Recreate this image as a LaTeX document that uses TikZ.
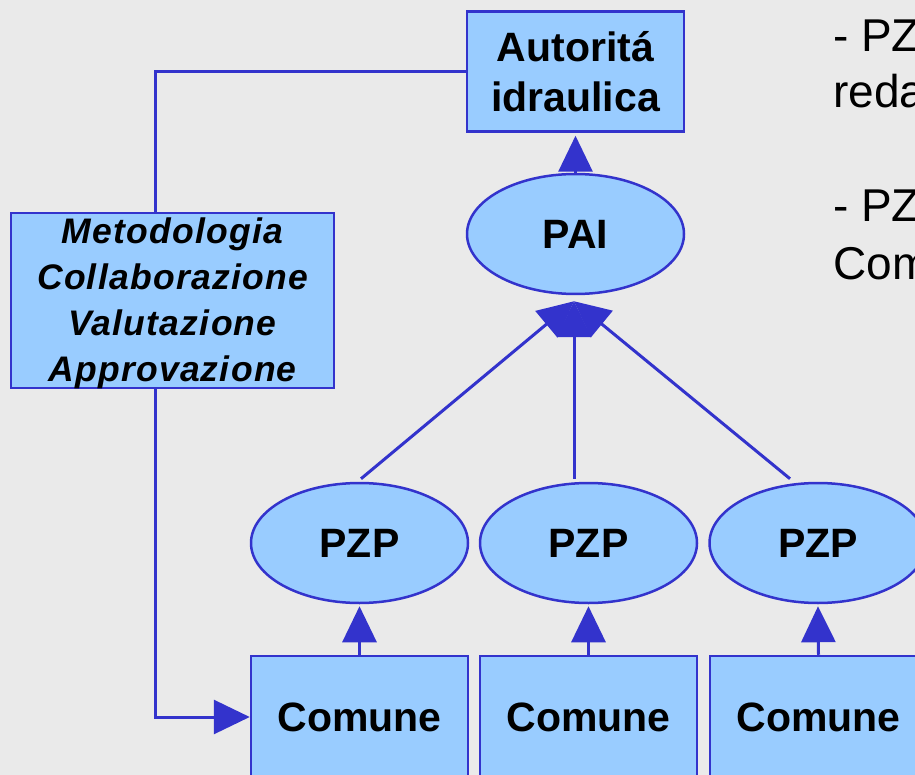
\documentclass[tikz,border=0pt]{standalone}
\usepackage{fontspec}
\setmainfont{Liberation Sans}
\newfontfamily\metafont{Liberation Sans}[LetterSpace=3.5]
\usetikzlibrary{arrows.meta,shapes.geometric}
\definecolor{bg}{HTML}{EAEAEA}
\definecolor{fillb}{HTML}{99CCFF}
\definecolor{lineb}{HTML}{3333CC}
\begin{document}
\begin{tikzpicture}[x=1pt,y=-1pt,
 box/.style={draw=lineb, fill=fillb, line width=2.5pt, rectangle, minimum width=217pt, minimum height=120pt, inner sep=0pt, font=\bfseries\fontsize{41}{50}\selectfont, align=center},
 oval/.style={draw=lineb, fill=fillb, line width=2.5pt, ellipse, minimum width=217pt, minimum height=120pt, inner sep=0pt, font=\bfseries\fontsize{41}{50}\selectfont},
 conn/.style={draw=lineb, line width=3pt},
 arr/.style={conn, -{Triangle[length=36pt,width=34pt]}},
 side/.style={anchor=north west, inner sep=0pt, align=left}]
\fill[bg] (0,0) rectangle (915,775);
\useasboundingbox (0,0) rectangle (915,775);
\clip (0,0) rectangle (915,775);

\node[box, minimum width=323pt, minimum height=175pt] (meta) at (172.5,300.5) {};
\node[box] (auth) at (575.5,71.5) {Autoritá\\idraulica};
\draw[conn] (auth.west) -| ([xshift=-17.5pt]meta.north);
\node[inner sep=0pt, anchor=north, align=center, font=\metafont\bfseries\itshape\fontsize{35.5}{46}\selectfont] (metatext) at ([yshift=-6pt]meta.north) {Metodologia\\Collaborazione\\Valutazione\\Approvazione};

\node[oval] (pai) at (575.5,234) {PAI};
\node[oval] (pzp1) at (359.5,543) {PZP};
\node[oval] (pzp2) at (588.5,543) {PZP};
\node[oval] (pzp3) at (818,543) {PZP};
\node[box, minimum height=122pt] (com1) at (359.5,717) {Comune};
\node[box, minimum height=122pt] (com2) at (588.5,717) {Comune};
\node[box, minimum height=122pt] (com3) at (818.5,717) {Comune};

\node[side, font=\fontsize{46}{56}\selectfont] (r1) at (833,20) {- PZ\\reda};
\node[side, font=\fontsize{46}{58}\selectfont] (r2) at (833,190) {- PZ\\Com};

\draw[arr] ([xshift=-17.5pt]meta.south) |- (com1.west);
\draw[arr, shorten >=2pt] (com1.north) -- (pzp1.south);
\draw[arr, shorten >=2pt] (com2.north) -- (pzp2.south);
\draw[arr, shorten >=2pt] (com3.north) -- (pzp3.south);
\draw[arr, shorten >=3pt] (pai.north) -- (auth.south);

\coordinate (paiin) at ([xshift=-1.5pt,yshift=-6pt]pai.south);
\coordinate (s1) at ([xshift=1.5pt,yshift=3pt]pzp1.north);
\coordinate (s2) at ([yshift=3pt]pzp2.north);
\coordinate (s3) at ([xshift=-28pt,yshift=3pt]pzp3.north);
\draw[arr] (s1) -- (paiin);
\draw[arr] (s2 -| paiin) -- (paiin);
\draw[arr] (s3) -- (paiin);
\end{tikzpicture}
\end{document}
